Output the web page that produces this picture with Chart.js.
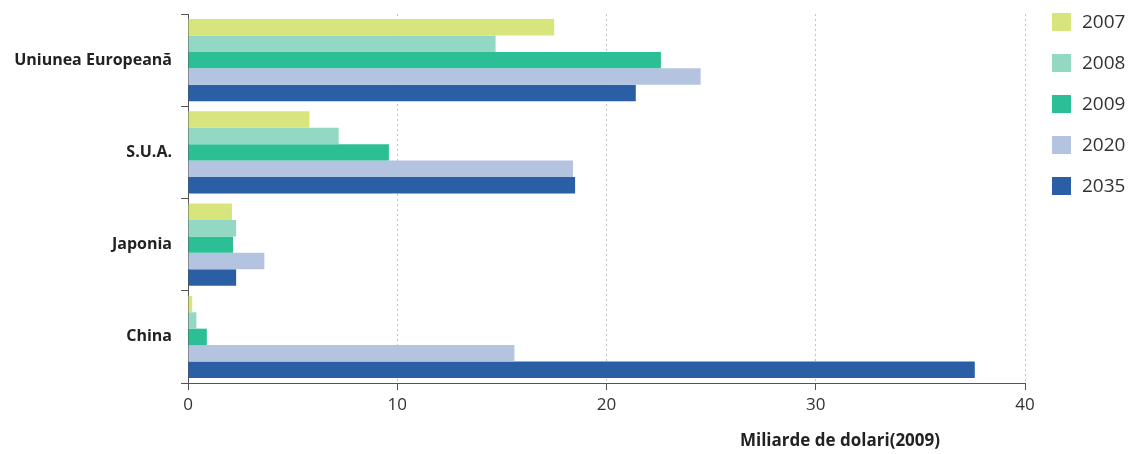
<!DOCTYPE html>
<html>
<head>
<meta charset="utf-8">
<script src="https://cdn.jsdelivr.net/npm/chart.js@4.4.1/dist/chart.umd.min.js"></script>
<style>
  html, body { margin: 0; padding: 0; background: #fff; }
</style>
</head>
<body>
<canvas id="grafic" width="1129" height="454"></canvas>
<script>
// Regiuni si ani
const regiuni = ['Uniunea Europeană', 'S.U.A.', 'Japonia', 'China'];
const ani = ['2007', '2008', '2009', '2020', '2035'];

// Valori (miliarde de dolari, 2009) pe regiune
const valori2007 = [17.5, 5.8, 2.1, 0.2];
const valori2008 = [14.7, 7.2, 2.3, 0.4];
const valori2009 = [22.6, 9.6, 2.15, 0.9];
const valori2020 = [24.5, 18.4, 3.65, 15.6];
const valori2035 = [21.4, 18.5, 2.3, 37.6];

const culori = ['#d8e57c', '#92d8c2', '#2cbf96', '#b4c4e0', '#2a5fa5'];
const serii = [valori2007, valori2008, valori2009, valori2020, valori2035];

// Legenda din dreapta si titlul axei orizontale
const legendaAni = {
    id: 'legendaAni',
    afterDraw(chart) {
        const ctx = chart.ctx;
        ctx.save();
        ctx.textBaseline = 'middle';
        ctx.textAlign = 'left';
        ctx.font = '19px "Open Sans"';
        chart.data.datasets.forEach((ds, i) => {
            const y = 22 + i * 41;
            ctx.fillStyle = ds.backgroundColor;
            ctx.fillRect(1052, y - 9, 19, 18);
            ctx.fillStyle = '#333';
            ctx.fillText(ds.label, 1082, y + 1);
        });
        ctx.font = 'bold 17px "Open Sans"';
        ctx.textAlign = 'center';
        ctx.fillStyle = '#222';
        ctx.fillText('Miliarde de dolari(2009)', 840, 441);
        ctx.restore();
    }
};

const ctxGrafic = document.getElementById('grafic').getContext('2d');
const grafic = new Chart(ctxGrafic, {
    type: 'bar',
    data: {
        labels: regiuni,
        datasets: ani.map((an, i) => ({
            label: an,
            data: serii[i],
            backgroundColor: culori[i],
            borderWidth: 0,
            categoryPercentage: 0.89,
            barPercentage: 1.0
        }))
    },
    options: {
        indexAxis: 'y',
        responsive: false,
        animation: false,
        layout: { padding: { top: 14, right: 104, left: 0, bottom: 0 } },
        plugins: {
            legend: { display: false },
            tooltip: { enabled: false }
        },
        scales: {
            x: {
                type: 'linear',
                position: 'bottom',
                min: 0,
                max: 40,
                ticks: { stepSize: 10, color: '#333', padding: 5, font: { size: 17, family: 'Open Sans' } },
                grid: {
                    color: c => (c.tick && c.tick.value === 0) ? 'rgba(0,0,0,0)' : '#c4c4c4',
                    tickColor: '#555',
                    tickLength: 7,
                    tickBorderDash: []
                },
                border: { color: '#555', dash: [2, 3] },
                afterFit: s => { s.height = 71; s.paddingLeft = 0; s.paddingRight = 0; }
            },
            y: {
                type: 'category',
                position: 'left',
                offset: true,
                ticks: { color: '#222', padding: 9, font: { size: 16, weight: 'bold', family: 'Open Sans' } },
                grid: { drawOnChartArea: false, offset: true, tickLength: 7, color: '#555' },
                border: { color: '#555' },
                afterFit: s => { s.width = 188; s.paddingTop = 0; s.paddingBottom = 0; }
            }
        }
    },
    plugins: [legendaAni]
});
</script>
</body>
</html>
